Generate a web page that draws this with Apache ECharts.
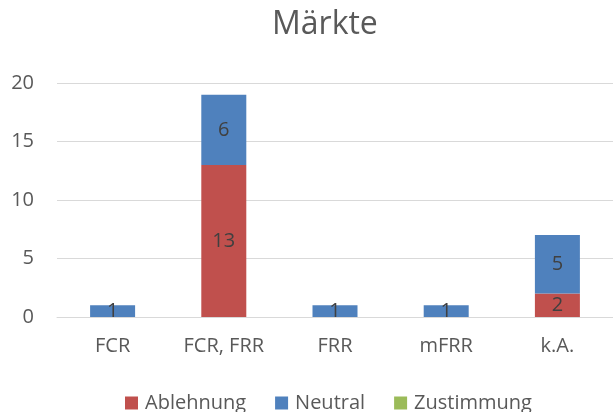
<!DOCTYPE html>
<html><head><meta charset="utf-8">
<script src="https://cdn.jsdelivr.net/npm/echarts@6/dist/echarts.min.js"></script>
<style>html,body{margin:0;padding:0;background:#fff}#c{width:613px;height:412px}</style>
</head><body><div id="c"></div>
<script>
const categories = ['FCR', 'FCR, FRR', 'FRR', 'mFRR', 'k.A.'];
const ablehnung = [0, 13, 0, 0, 2];
const neutral = [1, 6, 1, 1, 5];
const zustimmung = [0, 0, 0, 0, 0];
const yTicks = [0, 5, 10, 15, 20];

const font = "'Open Sans', 'DejaVu Sans', sans-serif";
const lbl = {show: true, position: 'inside', color: '#404040', fontSize: 20, fontFamily: font,
  formatter: p => p.value === 0 ? '' : String(p.value)};
function mk(name, data, color) {
  return {name, type: 'bar', stack: 's', data, barWidth: 45,
    itemStyle: {color}, label: lbl, emphasis: {disabled: true}};
}
const chart = echarts.init(document.getElementById('c'), null, {renderer: 'canvas'});
chart.setOption({
  animation: false,
  title: {text: 'Märkte', left: 267, top: 4,
    textStyle: {fontFamily: font, fontWeight: 'normal', fontSize: 32, color: '#595959'}},
  grid: {left: 57, width: 561, top: 83, height: 234},
  legend: {top: 388, left: 120, itemWidth: 13, itemHeight: 13, itemGap: 29, icon: 'rect',
    textStyle: {fontFamily: font, fontSize: 20, color: '#595959', padding: [0, 0, 0, 2]},
    data: ['Ablehnung', 'Neutral', 'Zustimmung']},
  xAxis: {type: 'category', data: categories,
    axisLine: {lineStyle: {color: '#d9d9d9', width: 1}}, axisTick: {show: false},
    axisLabel: {fontFamily: font, fontSize: 20, color: '#595959', margin: 19}},
  yAxis: {type: 'value', min: yTicks[0], max: yTicks[yTicks.length - 1], interval: 5,
    axisLine: {show: false}, axisTick: {show: false},
    splitLine: {lineStyle: {color: '#d9d9d9', width: 1}},
    axisLabel: {fontFamily: font, fontSize: 20, color: '#595959', margin: 23}},
  series: [mk('Ablehnung', ablehnung, '#C0504D'), mk('Neutral', neutral, '#4F81BD'),
           mk('Zustimmung', zustimmung, '#9BBB59')]
});
</script></body></html>
